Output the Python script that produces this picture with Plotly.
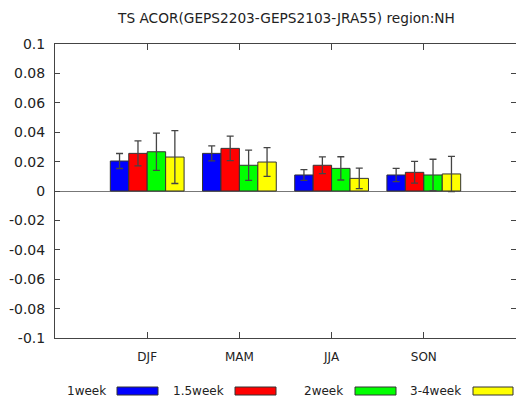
import plotly.graph_objects as go

seasons = ["DJF", "MAM", "JJA", "SON"]
series_names = ["1week", "1.5week", "2week", "3-4week"]
colors = ["#0000ff", "#ff0000", "#00ff00", "#ffff00"]

val_1week = [0.0204, 0.0256, 0.0109, 0.0109]
err_1week = [0.0051, 0.0051, 0.0037, 0.0045]
val_15week = [0.0256, 0.0290, 0.0175, 0.0127]
err_15week = [0.0085, 0.0083, 0.0057, 0.0074]
val_2week = [0.0267, 0.0175, 0.0154, 0.0109]
err_2week = [0.0127, 0.0103, 0.0079, 0.0107]
val_34week = [0.0231, 0.0197, 0.0086, 0.0116]
err_34week = [0.0180, 0.0098, 0.0070, 0.0120]

ytick_vals = [-0.1, -0.08, -0.06, -0.04, -0.02, 0, 0.02, 0.04, 0.06, 0.08, 0.1]
ytick_text = ["-0.1", "-0.08", "-0.06", "-0.04", "-0.02", "0", "0.02", "0.04", "0.06", "0.08", "0.1"]

values = [val_1week, val_15week, val_2week, val_34week]
errors = [err_1week, err_15week, err_2week, err_34week]
xpos = [1, 2, 3, 4]

FONT = "DejaVu Sans"
fig = go.Figure()
for name, col, v, e in zip(series_names, colors, values, errors):
    fig.add_trace(go.Bar(
        x=xpos, y=v, name=name,
        marker=dict(color=col, line=dict(color="#333333", width=1)),
        error_y=dict(type="data", array=e, visible=True, color="#444444",
                     thickness=1.3, width=3.5),
        showlegend=False,
    ))

W, H = 516, 399
L, R, T, B = 55, 0, 44, 61
pw, ph = W - L - R, H - T - B

def px(x):
    return (x - L) / pw

def py(y):
    return (H - B - y) / ph

# custom legend: text then box
legend_text_right = [108, 226, 345, 463]
legend_box = [(117, 158), (235, 276), (355, 396), (473, 513)]
shapes = []
annotations = []
for name, col, tr, (bx0, bx1) in zip(series_names, colors, legend_text_right, legend_box):
    annotations.append(dict(x=px(tr), y=py(391), xref="paper", yref="paper",
                            text=name, showarrow=False, xanchor="right",
                            yanchor="middle", font=dict(family=FONT, size=12, color="#222")))
    shapes.append(dict(type="rect", xref="paper", yref="paper",
                       x0=px(bx0), x1=px(bx1), y0=py(395), y1=py(387),
                       fillcolor=col, line=dict(color="#333333", width=1)))

fig.update_layout(
    width=W, height=H,
    margin=dict(l=L, r=R, t=T, b=B),
    paper_bgcolor="white", plot_bgcolor="white",
    barmode="group", bargap=0.2, bargroupgap=0,
    title=dict(text="TS ACOR(GEPS2203-GEPS2103-JRA55) region:NH",
               x=(120 + 453) / 2 / W, xanchor="center", y=1 - 18 / H, yanchor="middle",
               font=dict(family=FONT, size=13.7, color="#222")),
    xaxis=dict(range=[0, 5], tickvals=xpos, ticktext=seasons,
               ticks="inside", ticklen=6, tickcolor="#444", mirror="allticks",
               showline=True, linecolor="#444", linewidth=1, showgrid=False,
               zeroline=False, ticklabelstandoff=8,
               tickfont=dict(family=FONT, size=12, color="#222")),
    yaxis=dict(range=[-0.1, 0.1], tickvals=ytick_vals, ticktext=ytick_text,
               ticks="inside", ticklen=5, tickcolor="#444", mirror="allticks",
               showline=True, linecolor="#444", linewidth=1, showgrid=False,
               zeroline=True, zerolinecolor="#777", zerolinewidth=1,
               ticklabelstandoff=6,
               tickfont=dict(family=FONT, size=14, color="#222")),
    shapes=shapes, annotations=annotations,
)

fig.write_html("out.html", config={"displayModeBar": False},
               post_script="document.body.style.margin='0';document.body.style.padding='0';")
